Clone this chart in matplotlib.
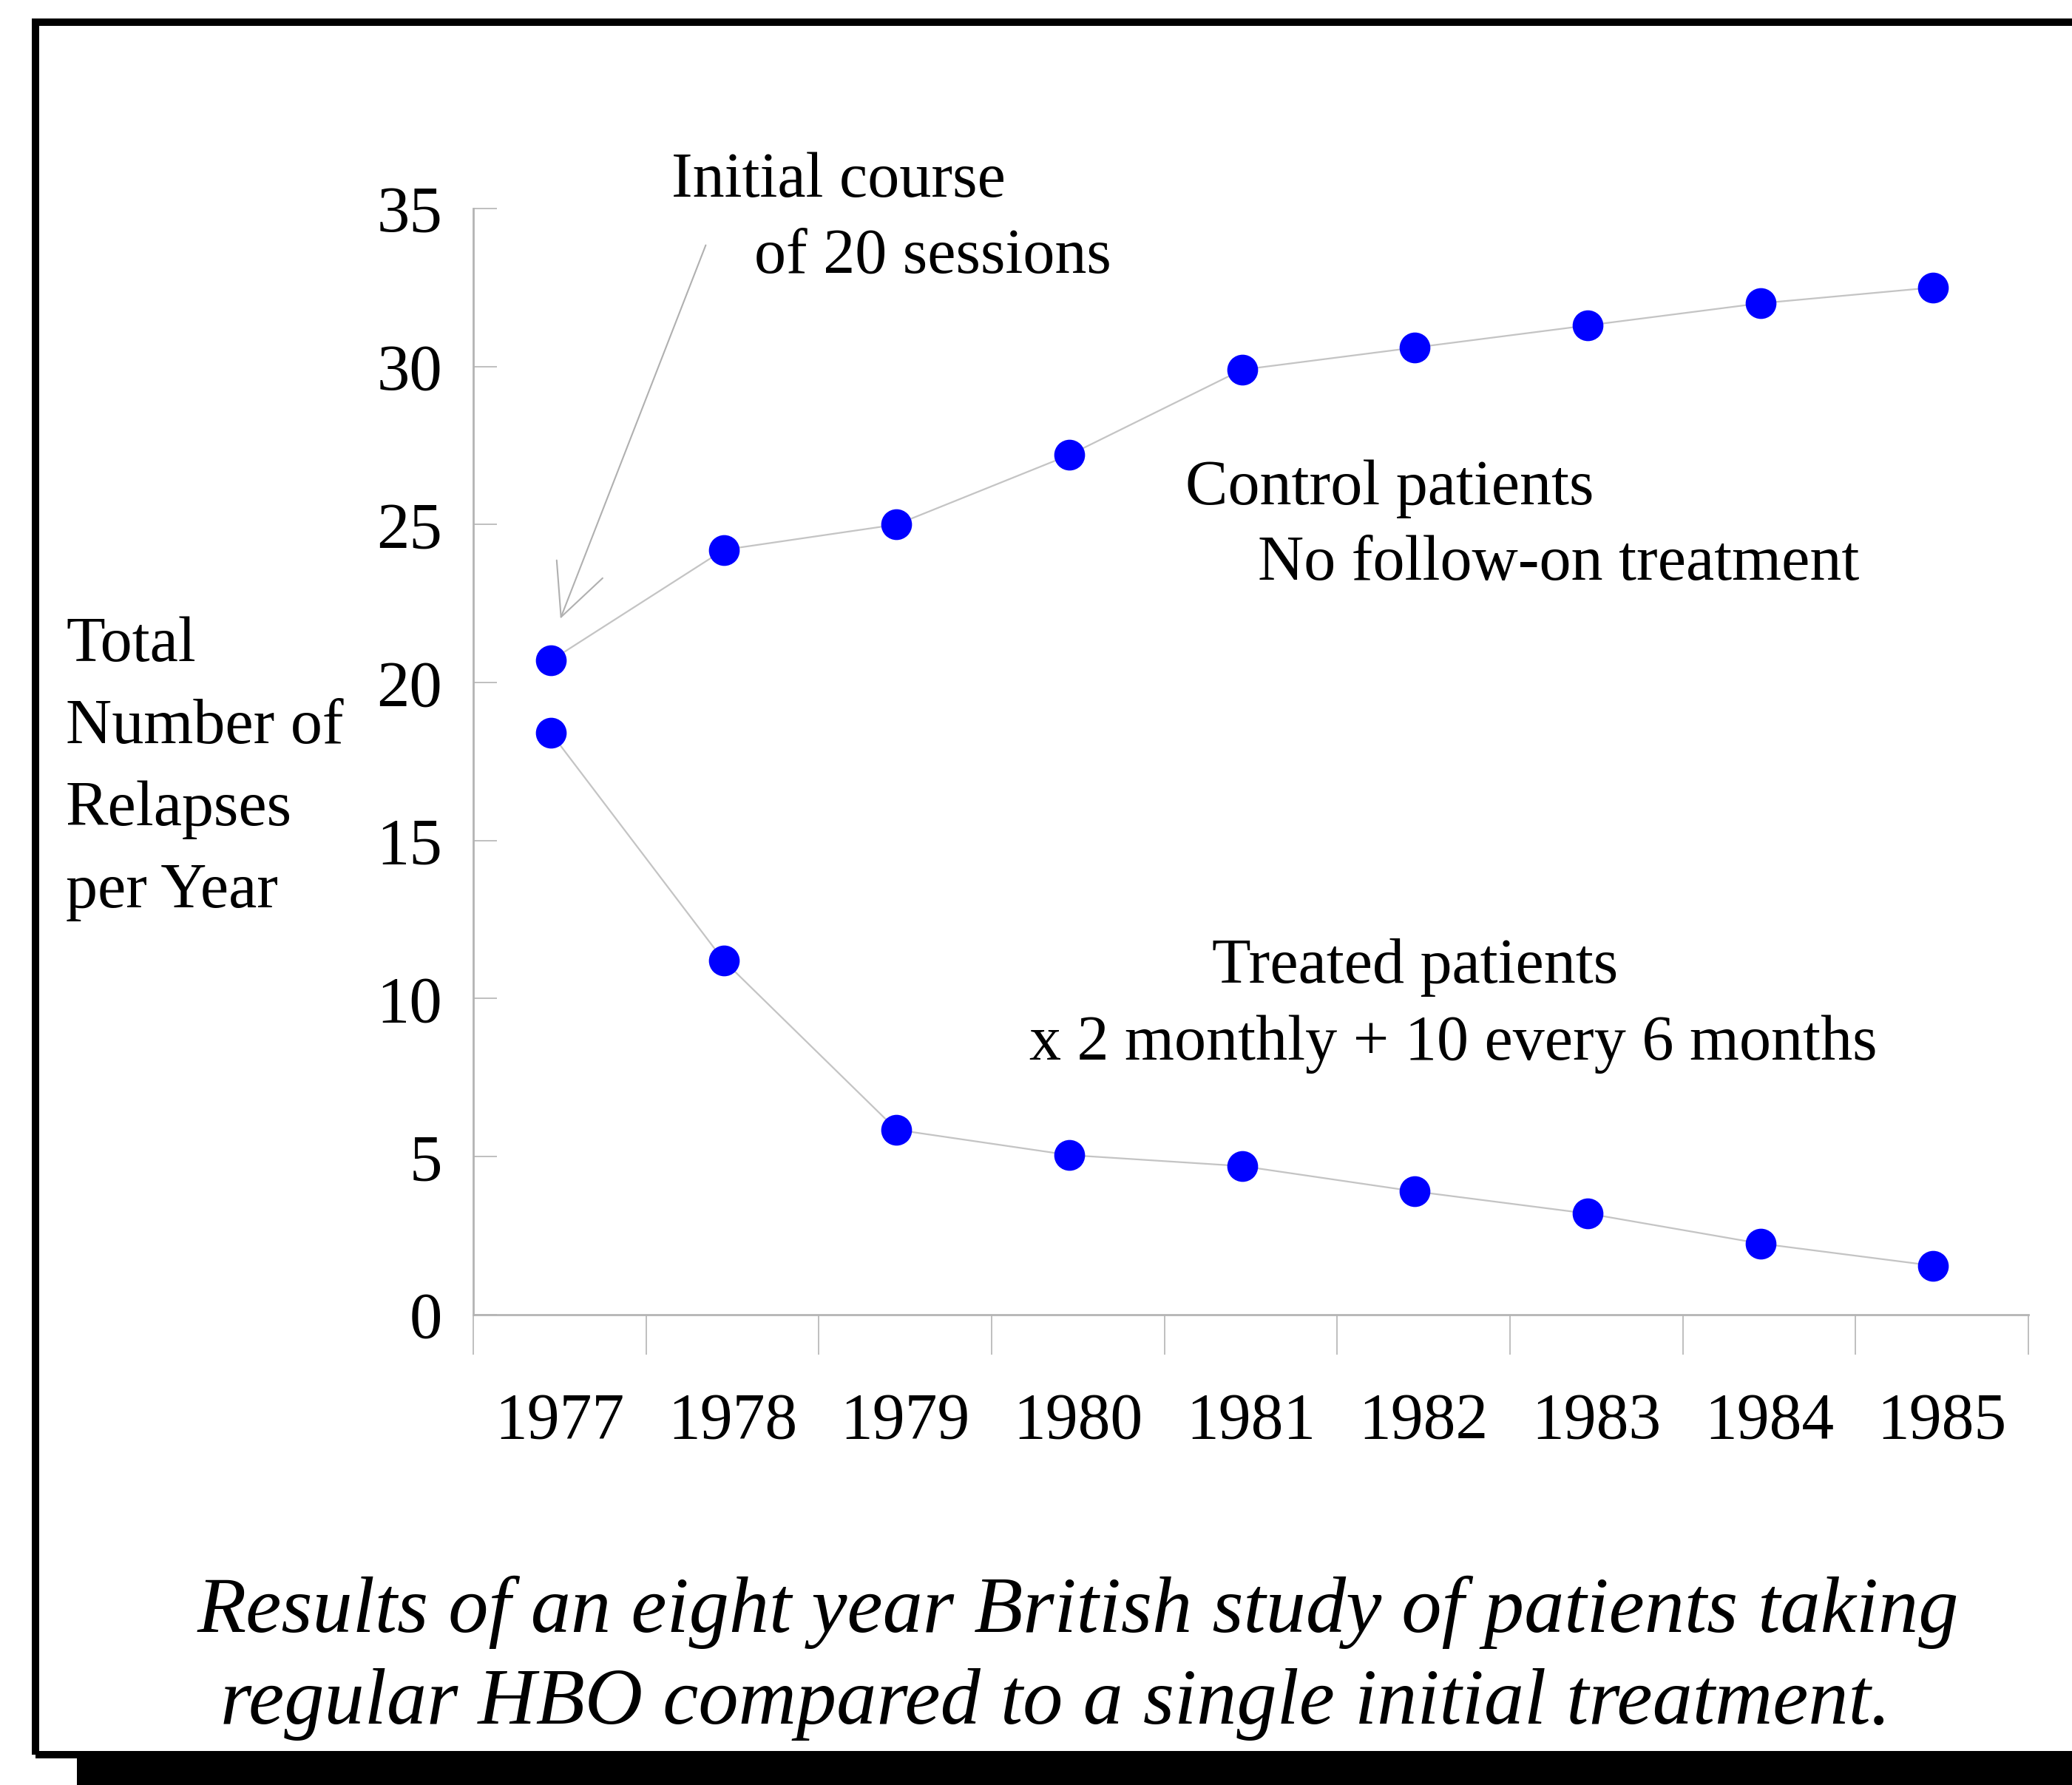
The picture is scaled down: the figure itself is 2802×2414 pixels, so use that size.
import numpy as np
import matplotlib.pyplot as plt
from matplotlib.patches import Rectangle

plt.rcParams['font.family'] = ['Liberation Serif', 'DejaVu Serif']

years = ['1977', '1978', '1979', '1980', '1981', '1982', '1983', '1984', '1985']
control = [20.7, 24.2, 25.0, 27.2, 29.9, 30.6, 31.3, 32.0, 32.5]
treated = [18.4, 11.2, 5.85, 5.05, 4.7, 3.9, 3.2, 2.25, 1.55]
yticks = [0, 5, 10, 15, 20, 25, 30, 35]

W, H = 2802, 2414
def fx(x, y):
    # pixel position -> figure fraction
    return x / W, 1 - y / H

fig = plt.figure(figsize=(W / 100, H / 100), dpi=100)
ax = fig.add_axes([0.2284, 0.2635, 0.7505, 0.6197])

x = np.arange(len(years))
for vals in (control, treated):
    ax.plot(x, vals, color='#c4c4c4', lw=1.6, marker='o', ms=29,
            mfc='#0000ff', mec='#0000ff', zorder=3, clip_on=False)

ax.set_xlim(-0.45, 8.55)
ax.set_ylim(0, 35)
ax.set_yticks(yticks)
ax.set_yticklabels([str(v) for v in yticks])
ax.set_xticks(np.arange(10) - 0.45)
ax.set_xticklabels([])
ax.set_xticks(x + 0.05, minor=True)
ax.set_xticklabels(years, minor=True)

gray = '#b4b4b4'
for s in ('top', 'right'):
    ax.spines[s].set_visible(False)
for s in ('left', 'bottom'):
    ax.spines[s].set_color(gray)
    ax.spines[s].set_linewidth(2)
ax.tick_params(axis='y', direction='in', length=23, width=1.2, color=gray,
               labelsize=64, pad=30)
ax.tick_params(axis='x', which='major', direction='out', length=39, width=1.2,
               color=gray)
ax.tick_params(axis='x', which='minor', length=0, labelsize=63, pad=75)

# arrow from the note to the first point
ax.annotate('', xy=(0.05, 21.96), xytext=(0.90, 33.9),
            arrowprops=dict(arrowstyle='->,head_length=5,head_width=2.4',
                            color='#b0b0b0', lw=1.5))

fs = 62
fig.text(*fx(908, 245), 'Initial course', fontsize=fs, va='center')
fig.text(*fx(1020, 348), 'of 20 sessions', fontsize=fs, va='center')
fig.text(*fx(1603, 661), 'Control patients', fontsize=fs, va='center')
fig.text(*fx(1701, 763), 'No follow-on treatment', fontsize=fs, va='center')
fig.text(*fx(1639, 1308), 'Treated patients', fontsize=fs, va='center')
fig.text(*fx(1392, 1412), 'x 2 monthly + 10 every 6 months', fontsize=fs, va='center')
fig.text(*fx(89, 1040), 'Total\nNumber of\nRelapses\nper Year', fontsize=fs,
         va='center', linespacing=1.52)

fig.text(*fx(1458, 2180), 'Results of an eight year British study of patients taking',
         fontsize=78, style='italic', ha='center', va='center')
fig.text(*fx(1427, 2305), 'regular HBO compared to a single initial treatment.',
         fontsize=78, style='italic', ha='center', va='center')

# frame and shadow
fig.add_artist(Rectangle((48 / W, 1 - 2373 / H), 1.0, (2373 - 30) / H,
                         transform=fig.transFigure, fill=False, ec='black', lw=7.2))
fig.add_artist(Rectangle((104 / W, 0), 1.0, 1 - 2378 / H,
                         transform=fig.transFigure, fc='black', ec='none'))

fig.savefig('out.png', dpi=100)
